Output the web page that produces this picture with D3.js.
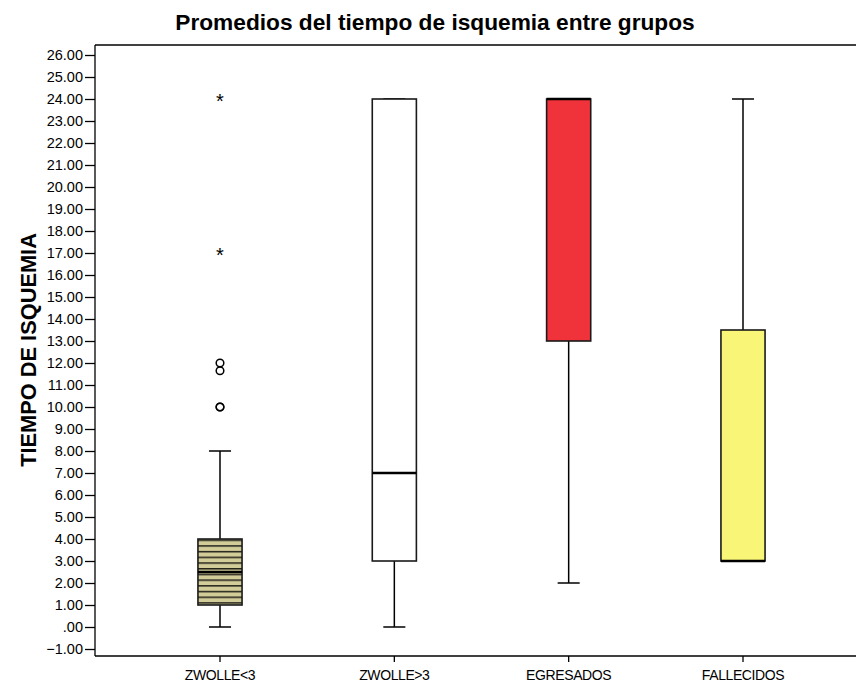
<!DOCTYPE html>
<html>
<head>
<meta charset="utf-8">
<script src="https://cdn.jsdelivr.net/npm/d3@7"></script>
<style>
  body { margin: 0; background: #fff; }
  svg { display: block; font-family: "Liberation Sans", Arial, sans-serif; }
</style>
</head>
<body>
<svg id="chart" width="856" height="683"></svg>
<script>
// Groups and their five-number summaries (hours of ischemia)
const groups   = ["ZWOLLE<3", "ZWOLLE>3", "EGRESADOS", "FALLECIDOS"];
const whiskLo  = [0, 0, 2, 3];
const q1       = [1, 3, 13, 3];
const medians  = [2.5, 7, 24, 3];
const q3       = [4, 24, 24, 13.5];
const whiskHi  = [8, 24, 24, 24];
const fills    = ["url(#hatch)", "#ffffff", "#f0333a", "#f9f577"];

// Outliers of the first group: circles (mild) and stars (extreme)
const mildOutliers    = [10, 10, 11.65, 12];
const extremeOutliers = [17, 24];

const yTicks = d3.range(-1, 27);

const svg = d3.select("#chart");
const plotLeft = 95, plotTop = 45, plotBottom = 656, plotRight = 868;

const x = d3.scaleBand().domain(groups).range([plotLeft, plotRight])
  .paddingInner(0).paddingOuter(0.217);
const y = d3.scaleLinear().domain([-1, 26]).range([649, 55]);

const boxW = x.step() * 0.253;
const capW = boxW / 2;

// horizontal-line hatch for the first box
const defs = svg.append("defs");
const pat = defs.append("pattern").attr("id", "hatch")
  .attr("patternUnits", "userSpaceOnUse")
  .attr("x", 0).attr("y", y(4) + 0.5).attr("width", 8).attr("height", 5.7);
pat.append("rect").attr("width", 8).attr("height", 5.7).attr("fill", "#d2cc98");
pat.append("rect").attr("y", 0).attr("width", 8).attr("height", 1.5).attr("fill", "#22221a");

// frame: top line
svg.append("line").attr("x1", plotLeft).attr("x2", 856).attr("y1", plotTop).attr("y2", plotTop)
  .attr("stroke", "#000").attr("stroke-width", 1.3);

// y axis
const fmt = v => { const s = d3.format(".2f")(v); return s.replace(/^0\./, ".").replace(/^-0\./, "-."); };
const yAxis = svg.append("g").attr("transform", `translate(${plotLeft},0)`)
  .call(d3.axisLeft(y).tickValues(yTicks).tickFormat(fmt).tickSize(10).tickPadding(2));
yAxis.select(".domain").attr("d", `M0,${plotTop}V${plotBottom}`).attr("stroke-width", 1.3);
yAxis.selectAll(".tick line").attr("stroke-width", 1.3);
yAxis.selectAll("text").attr("font-size", 14.5).attr("fill", "#000")
  .attr("font-family", "'Liberation Sans', Arial, sans-serif");

// x axis
const xAxis = svg.append("g").attr("transform", `translate(0,${plotBottom})`)
  .call(d3.axisBottom(x).tickSize(6).tickPadding(8));
xAxis.select(".domain").attr("d", `M${plotLeft},0H856`).attr("stroke-width", 1.3);
xAxis.selectAll(".tick line").attr("stroke-width", 1.3);
xAxis.selectAll("text").attr("font-size", 14).attr("fill", "#000")
  .attr("letter-spacing", "-0.4px")
  .attr("font-family", "'Liberation Sans', Arial, sans-serif");

// boxes
const boxes = svg.append("g");
groups.forEach((g, i) => {
  const cx = x(g) + x.bandwidth() / 2;
  const gg = boxes.append("g");
  // whiskers
  gg.append("line").attr("x1", cx).attr("x2", cx).attr("y1", y(whiskLo[i])).attr("y2", y(q1[i]))
    .attr("stroke", "#000").attr("stroke-width", 1.5);
  gg.append("line").attr("x1", cx).attr("x2", cx).attr("y1", y(whiskHi[i])).attr("y2", y(q3[i]))
    .attr("stroke", "#000").attr("stroke-width", 1.5);
  gg.append("line").attr("x1", cx - capW / 2).attr("x2", cx + capW / 2)
    .attr("y1", y(whiskLo[i])).attr("y2", y(whiskLo[i])).attr("stroke", "#000").attr("stroke-width", 1.5);
  gg.append("line").attr("x1", cx - capW / 2).attr("x2", cx + capW / 2)
    .attr("y1", y(whiskHi[i])).attr("y2", y(whiskHi[i])).attr("stroke", "#000").attr("stroke-width", 1.5);
  // box
  gg.append("rect").attr("x", cx - boxW / 2).attr("width", boxW)
    .attr("y", y(q3[i])).attr("height", y(q1[i]) - y(q3[i]))
    .attr("fill", fills[i]).attr("stroke", "#1a1a1a").attr("stroke-width", 1.6);
  // median
  gg.append("line").attr("x1", cx - boxW / 2).attr("x2", cx + boxW / 2)
    .attr("y1", y(medians[i])).attr("y2", y(medians[i]))
    .attr("stroke", "#000").attr("stroke-width", 2.6);
});

// outliers of the first group
const cx0 = x(groups[0]) + x.bandwidth() / 2;
svg.append("g").selectAll("circle").data(mildOutliers).join("circle")
  .attr("cx", cx0).attr("cy", d => y(d)).attr("r", 3.8)
  .attr("fill", "none").attr("stroke", "#000").attr("stroke-width", 1.5);
svg.append("g").selectAll("text").data(extremeOutliers).join("text")
  .attr("x", cx0).attr("y", d => y(d) + 9).attr("text-anchor", "middle")
  .attr("font-size", 20).attr("fill", "#000").text("*");

// titles
svg.append("text").attr("x", 435).attr("y", 30).attr("text-anchor", "middle")
  .attr("font-weight", "bold").attr("font-size", 22.7).text("Promedios del tiempo de isquemia entre grupos");
svg.append("text").attr("transform", "translate(36,350) rotate(-90)").attr("text-anchor", "middle")
  .attr("font-weight", "bold").attr("font-size", 21.8).text("TIEMPO DE ISQUEMIA");
</script>
</body>
</html>
